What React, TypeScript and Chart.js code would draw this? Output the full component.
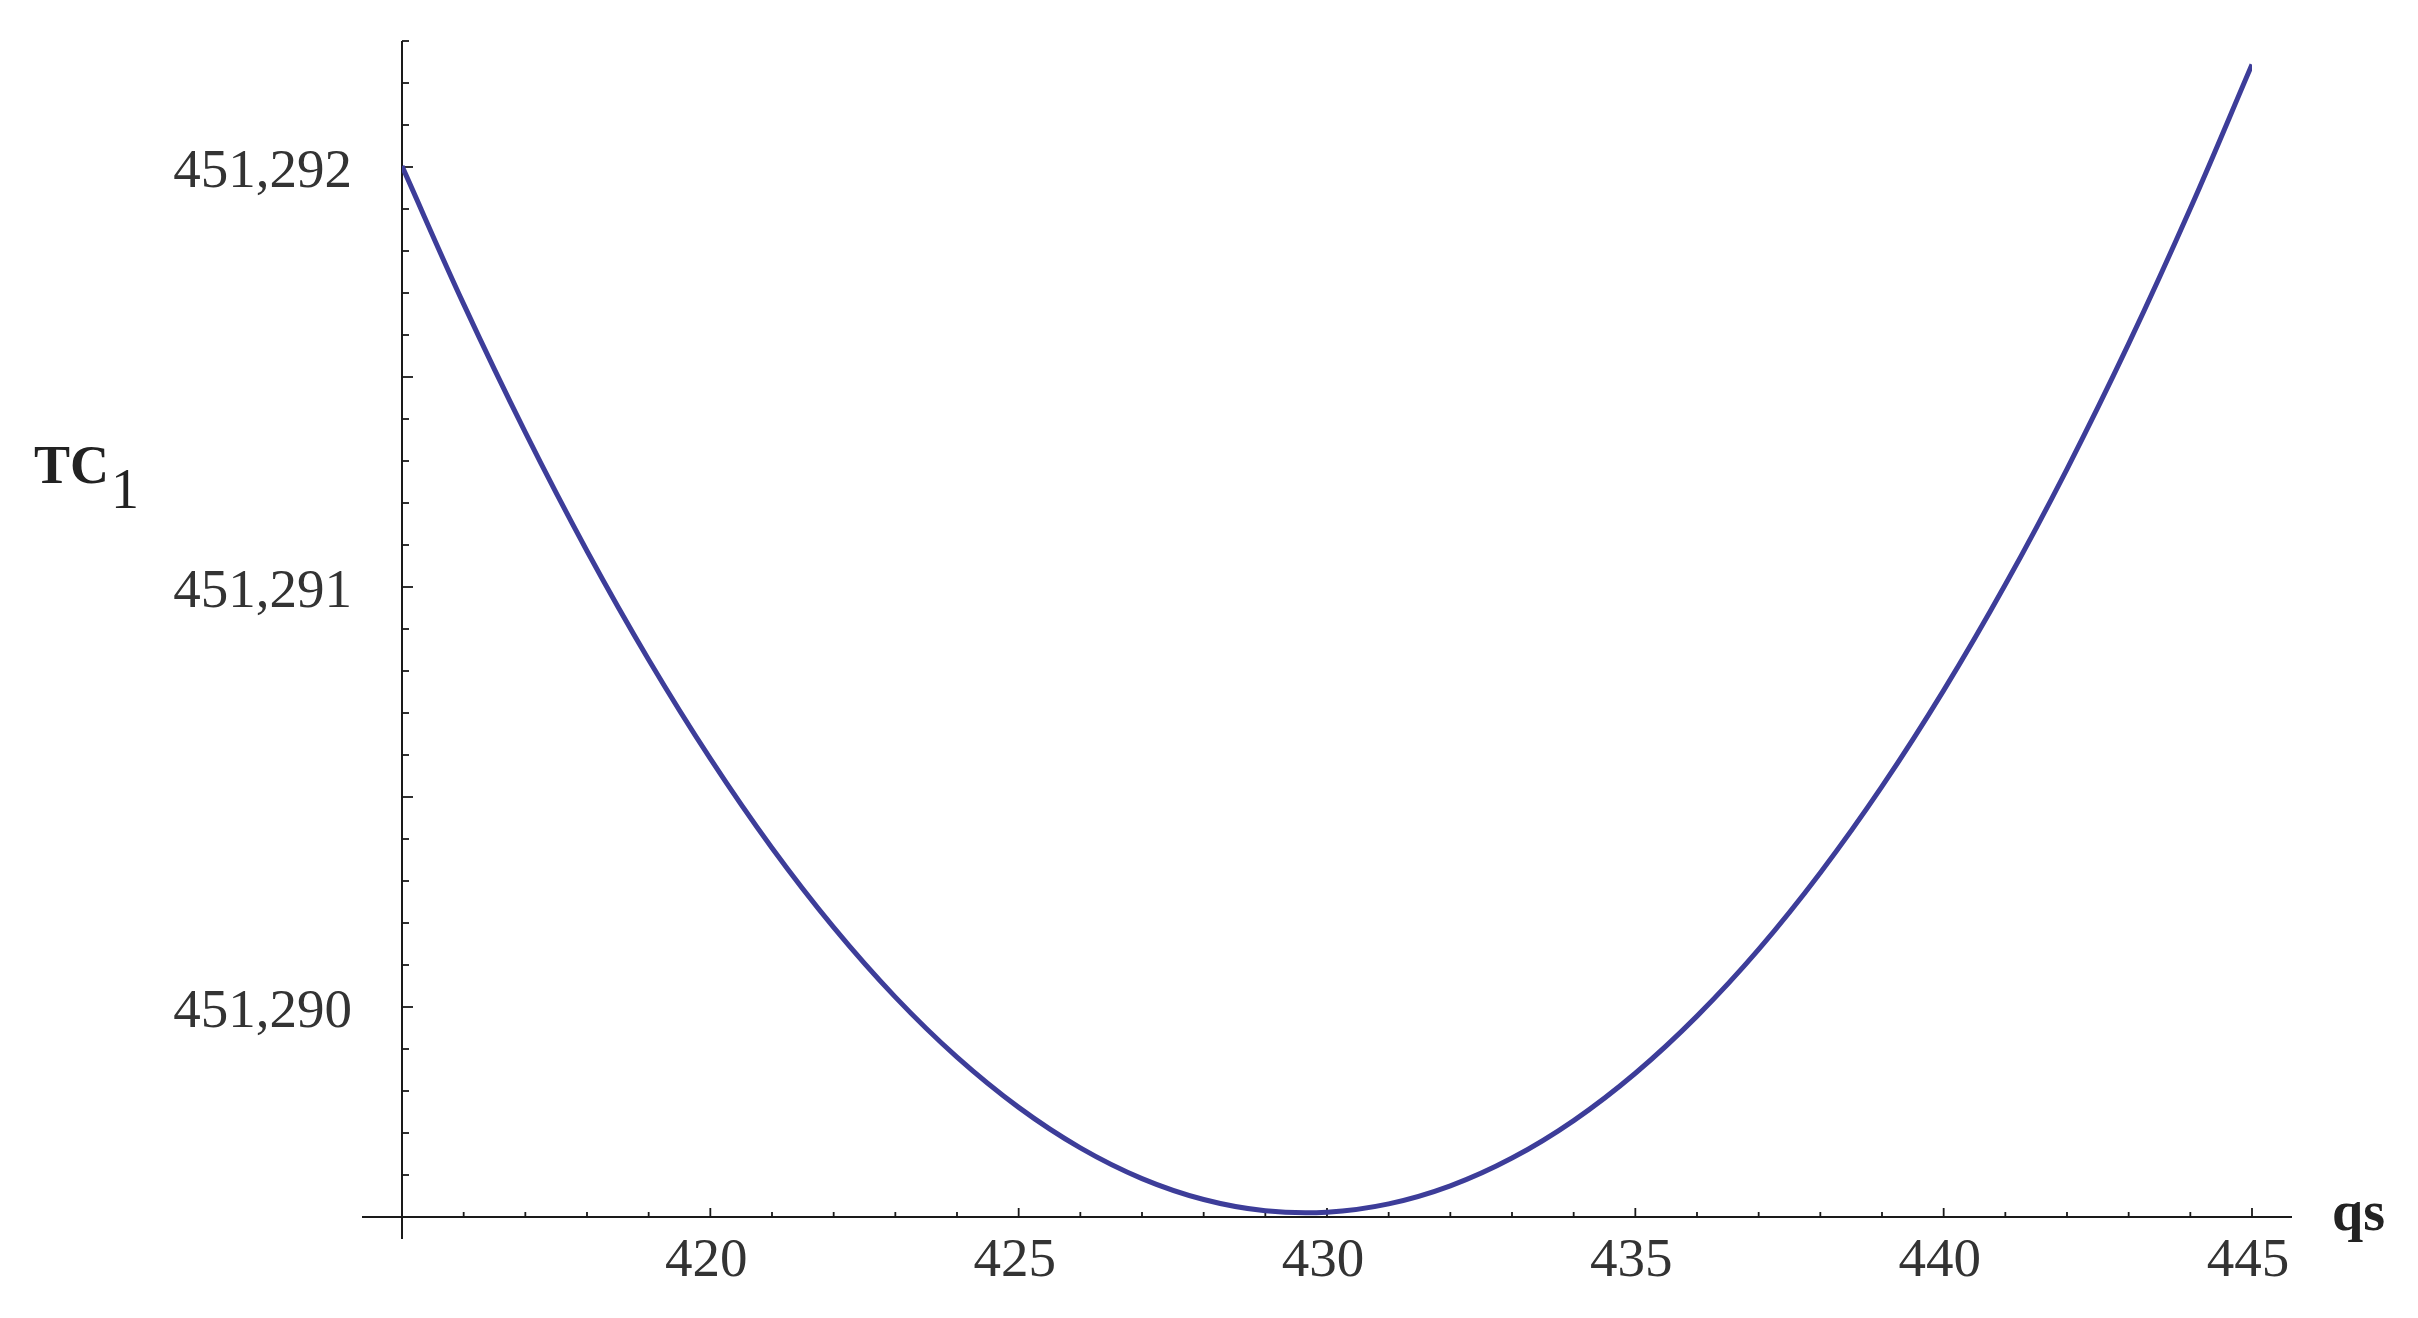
import React, { useEffect, useRef } from "react";
import { Chart, registerables } from "chart.js";

Chart.register(...registerables);

// ---- data ----
const qValues = [
  415, 416, 417, 418, 419, 420, 421, 422, 423, 424, 425, 426, 427, 428, 429, 430,
  431, 432, 433, 434, 435, 436, 437, 438, 439, 440, 441, 442, 443, 444, 445,
];
const tcValues = [
  451.2920021, 451.2916734, 451.291368, 451.2910858, 451.2908269, 451.2905913,
  451.2903786, 451.2901895, 451.2900235, 451.2898806, 451.289761, 451.2896646,
  451.2895915, 451.2895417, 451.2895149, 451.2895114, 451.2895312, 451.2895741,
  451.2896403, 451.2897296, 451.2898423, 451.2899783, 451.2901371, 451.2903196,
  451.2905251, 451.2907538, 451.2910058, 451.2912809, 451.2915793, 451.2919011,
  451.2922443,
];
const xTickValues = [420, 425, 430, 435, 440, 445];
const xTickLabels = ["420", "425", "430", "435", "440", "445"];
const yTickValues = [451.29, 451.291, 451.292];
const yTickLabels = ["451,290", "451,291", "451,292"];
const xRange = [415, 445];
const yRange = [451.2895, 451.2923];
const xAxisTitle = "qs";
const yAxisTitle = "TC";
const yAxisTitleSub = "1";

const SERIF = '"Liberation Serif", "Times New Roman", serif';

const axesPlugin = {
  id: "mmaAxes",
  beforeDatasetsDraw(chart: any) {
    const ctx = chart.ctx;
    const xs = chart.scales.x;
    const ys = chart.scales.y;
    const x0 = xs.getPixelForValue(xRange[0]);
    const x1 = xs.getPixelForValue(xRange[1]);
    const y0 = ys.getPixelForValue(yRange[0]);
    const y1 = ys.getPixelForValue(yRange[1]);
    ctx.save();
    ctx.strokeStyle = "#1a1a1a";
    ctx.lineWidth = 2;
    ctx.beginPath();
    ctx.moveTo(x0 - 40, y0);
    ctx.lineTo(x1 + 40, y0);
    ctx.stroke();
    ctx.beginPath();
    ctx.moveTo(x0, y1);
    ctx.lineTo(x0, y0 + 22);
    ctx.stroke();

    ctx.lineWidth = 1.8;
    for (let q = xRange[0] + 1; q <= xRange[1]; q++) {
      const major = q % 5 === 0;
      const px = xs.getPixelForValue(q);
      ctx.beginPath();
      ctx.moveTo(px, y0);
      ctx.lineTo(px, y0 - (major ? 9 : 5));
      ctx.stroke();
    }
    const kStart = Math.round(yRange[0] * 10000) + 1;
    const kEnd = Math.round(yRange[1] * 10000);
    for (let k = kStart; k <= kEnd; k++) {
      const major = k % 5 === 0;
      const py = ys.getPixelForValue(k / 10000);
      ctx.beginPath();
      ctx.moveTo(x0, py);
      ctx.lineTo(x0 + (major ? 11 : 7), py);
      ctx.stroke();
    }
    ctx.restore();
  },
  afterDraw(chart: any) {
    const ctx = chart.ctx;
    ctx.save();
    ctx.fillStyle = "#222";
    ctx.textBaseline = "alphabetic";
    ctx.textAlign = "left";
    ctx.font = `bold 54px ${SERIF}`;
    ctx.fillText(yAxisTitle, 34, 483);
    const w = ctx.measureText(yAxisTitle).width;
    ctx.font = `56px ${SERIF}`;
    ctx.fillText(yAxisTitleSub, 34 + w + 2, 508);
    ctx.font = `bold 56px ${SERIF}`;
    ctx.fillText(xAxisTitle, 2332, 1230);
    ctx.restore();
  },
};

export default function App() {
  const ref = useRef<HTMLCanvasElement | null>(null);
  useEffect(() => {
    document.body.style.margin = "0";
    const canvas = ref.current;
    if (!canvas) return;
    const chart = new Chart(canvas, {
      type: "line",
      data: {
        datasets: [
          {
            data: qValues.map((q, i) => ({ x: q, y: tcValues[i] })),
            borderColor: "#3d3d99",
            borderWidth: 5,
            pointRadius: 0,
            tension: 0.4,
            fill: false,
          },
        ],
      },
      options: {
        animation: false,
        responsive: false,
        devicePixelRatio: 1,
        layout: { padding: { left: 0, top: 41, right: 166, bottom: 0 } },
        plugins: {
          legend: { display: false },
          tooltip: { enabled: false },
          title: { display: false },
        },
        scales: {
          x: {
            type: "linear",
            min: xRange[0],
            max: xRange[1],
            grid: { display: false, drawTicks: false },
            border: { display: false },
            afterBuildTicks: (s: any) => {
              s.ticks = xTickValues.map((v) => ({ value: v }));
            },
            afterFit: (s: any) => {
              s.height = 101;
              s.paddingLeft = 0;
              s.paddingRight = 0;
            },
            ticks: {
              autoSkip: false,
              maxRotation: 0,
              padding: 12,
              labelOffset: -4,
              color: "#333",
              font: { family: SERIF, size: 55 },
              callback: (_v: any, i: number) => xTickLabels[i],
            },
          },
          y: {
            type: "linear",
            min: yRange[0],
            max: yRange[1],
            grid: { display: false, drawTicks: false },
            border: { display: false },
            afterBuildTicks: (s: any) => {
              s.ticks = yTickValues.map((v) => ({ value: v }));
            },
            afterFit: (s: any) => {
              s.width = 402;
              s.paddingTop = 0;
              s.paddingBottom = 0;
            },
            ticks: {
              autoSkip: false,
              padding: 50,
              labelOffset: 6,
              color: "#333",
              font: { family: SERIF, size: 55 },
              callback: (_v: any, i: number) => yTickLabels[i],
            },
          },
        },
      },
      plugins: [axesPlugin],
    } as any);
    return () => chart.destroy();
  }, []);
  return (
    <div style={{ position: "fixed", left: 0, top: 0, width: 2418, height: 1318, background: "#fff" }}>
      <canvas ref={ref} width={2418} height={1318} style={{ width: 2418, height: 1318, display: "block" }} />
    </div>
  );
}
